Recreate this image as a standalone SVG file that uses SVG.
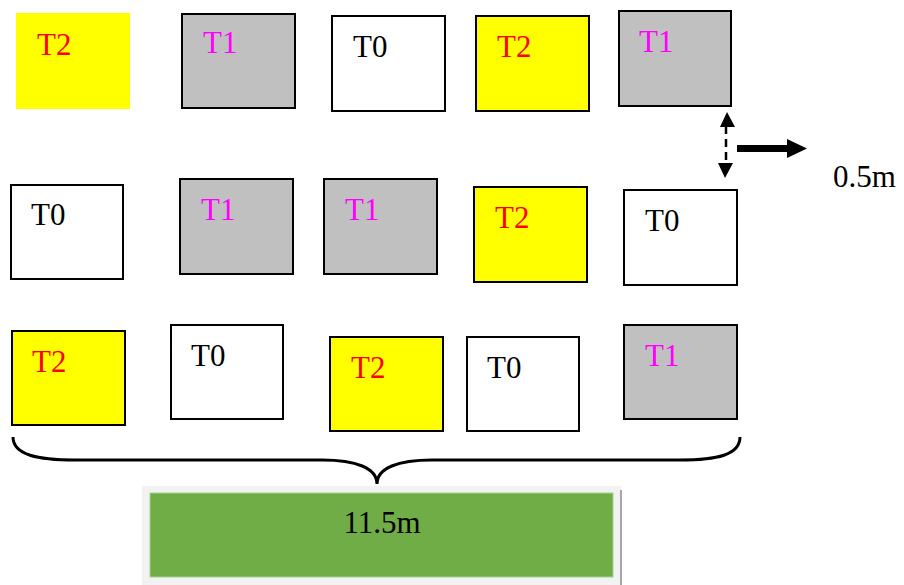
<svg xmlns="http://www.w3.org/2000/svg" width="904" height="585" viewBox="0 0 904 585">
<defs>
<style>
.b{stroke:#000;stroke-width:2}
.y{fill:#ffff00}
.g{fill:#c0c0c0}
.w{fill:#fff}
</style>
</defs>
<rect width="904" height="585" fill="#fff"/>
<g id="r1c1"><rect class="y" x="16" y="13" width="114" height="96"/><text x="37" y="55" font-family="Liberation Serif" font-size="31" fill="#ff0000">T2</text></g>
<g id="r1c2"><rect class="g b" x="182" y="14" width="113" height="94"/><text x="203" y="53" font-family="Liberation Serif" font-size="31" fill="#ff00ff">T1</text></g>
<g id="r1c3"><rect class="w b" x="332" y="16" width="113" height="95"/><text x="353" y="57" font-family="Liberation Serif" font-size="31" fill="#000">T0</text></g>
<g id="r1c4"><rect class="y b" x="476" y="16" width="113" height="95"/><text x="497" y="57" font-family="Liberation Serif" font-size="31" fill="#ff0000">T2</text></g>
<g id="r1c5"><rect class="g b" x="619" y="11" width="112" height="95"/><text x="639" y="52" font-family="Liberation Serif" font-size="31" fill="#ff00ff">T1</text></g>
<g id="r2c1"><rect class="w b" x="11" y="185" width="112" height="94"/><text x="31" y="225" font-family="Liberation Serif" font-size="31" fill="#000">T0</text></g>
<g id="r2c2"><rect class="g b" x="180" y="179" width="113" height="95"/><text x="201" y="220" font-family="Liberation Serif" font-size="31" fill="#ff00ff">T1</text></g>
<g id="r2c3"><rect class="g b" x="324" y="179" width="113" height="95"/><text x="345" y="220" font-family="Liberation Serif" font-size="31" fill="#ff00ff">T1</text></g>
<g id="r2c4"><rect class="y b" x="474" y="187" width="113" height="95"/><text x="495" y="228" font-family="Liberation Serif" font-size="31" fill="#ff0000">T2</text></g>
<g id="r2c5"><rect class="w b" x="624" y="190" width="113" height="95"/><text x="645" y="231" font-family="Liberation Serif" font-size="31" fill="#000">T0</text></g>
<g id="r3c1"><rect class="y b" x="12" y="331" width="113" height="94"/><text x="32" y="372" font-family="Liberation Serif" font-size="31" fill="#ff0000">T2</text></g>
<g id="r3c2"><rect class="w b" x="171" y="325" width="112" height="94"/><text x="191" y="366" font-family="Liberation Serif" font-size="31" fill="#000">T0</text></g>
<g id="r3c3"><rect class="y b" x="330" y="337" width="113" height="94"/><text x="351" y="378" font-family="Liberation Serif" font-size="31" fill="#ff0000">T2</text></g>
<g id="r3c4"><rect class="w b" x="467" y="337" width="112" height="94"/><text x="487" y="378" font-family="Liberation Serif" font-size="31" fill="#000">T0</text></g>
<g id="r3c5"><rect class="g b" x="624" y="325" width="113" height="94"/><text x="645" y="366" font-family="Liberation Serif" font-size="31" fill="#ff00ff">T1</text></g>
<g id="connectors">
<line x1="726" y1="126" x2="726" y2="164" stroke="#000" stroke-width="2.5" stroke-dasharray="8 5"/>
<polygon points="727,112 720,127 735,127" fill="#000"/>
<polygon points="725,178 718,163 733,163" fill="#000"/>
<rect x="737" y="145" width="51" height="7" fill="#000"/>
<polygon points="787,139 807,148.5 787,158" fill="#000"/>
<path d="M13 437 C13 455 38 460 75 460 L322 460 C356 460 377 468 377 484 C377 468 398 460 432 460 L680 460 C717 460 740 455 740 437" fill="none" stroke="#000" stroke-width="3"/>
</g>
<g id="label05"><text x="833" y="187" font-family="Liberation Serif" font-size="31" fill="#000">0.5m</text></g>
<g id="bar">
<rect x="142" y="486" width="479" height="99" fill="#f2f2f2"/>
<line x1="621" y1="490" x2="621" y2="585" stroke="#8c8c8c" stroke-width="1.5"/>
<rect x="150" y="493" width="463" height="84" fill="#70ad47" stroke="#a9d08e" stroke-width="1"/>
<text x="382" y="533" text-anchor="middle" font-family="Liberation Serif" font-size="31" fill="#000">11.5m</text>
</g>
</svg>
